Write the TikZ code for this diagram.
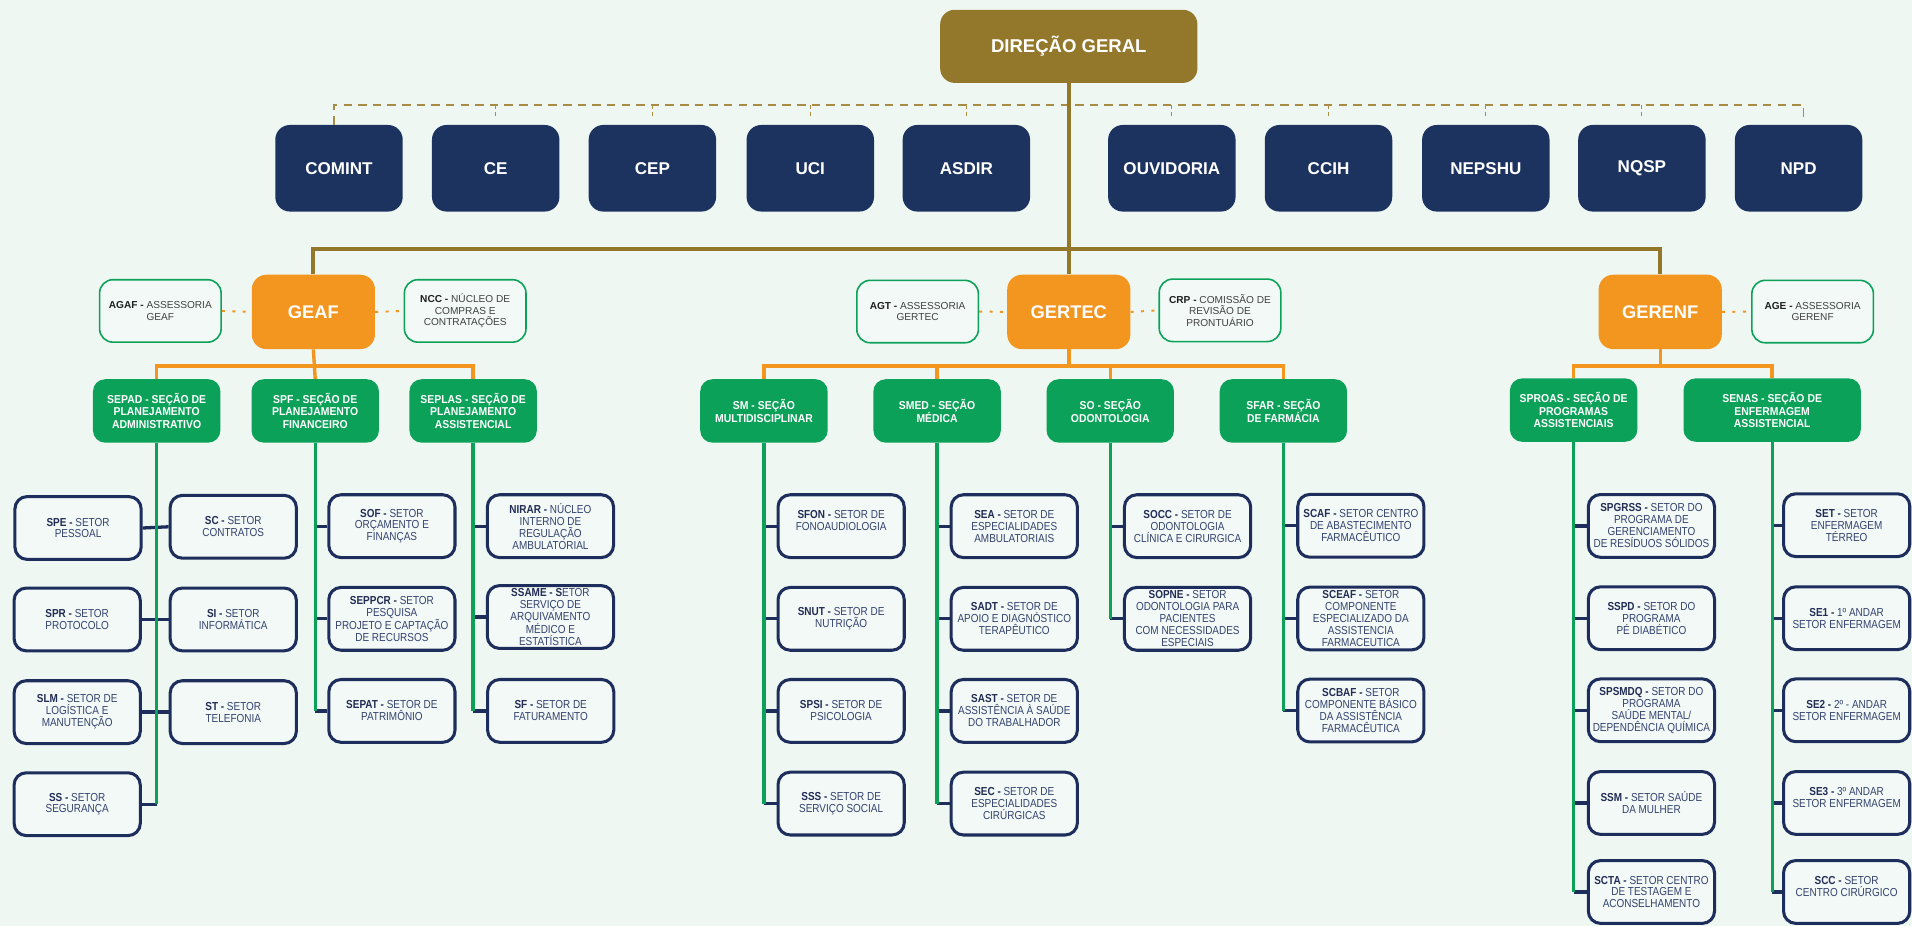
\documentclass[tikz,border=0pt]{standalone}
\usepackage{fontspec}
\setmainfont{Liberation Sans}
\newfontfamily\condfont[FakeStretch=0.86]{Liberation Sans}
\newfontfamily\secfont[FakeStretch=0.91]{Liberation Sans}
\definecolor{bgc}{RGB}{239,247,243}
\definecolor{olivec}{RGB}{147,119,43}
\definecolor{dashc}{RGB}{168,140,70}
\definecolor{navyc}{RGB}{28,51,96}
\definecolor{orangec}{RGB}{243,150,32}
\definecolor{greenc}{RGB}{11,161,89}
\definecolor{leafb}{RGB}{30,46,92}
\definecolor{leaff}{RGB}{243,249,247}
\definecolor{leaft}{RGB}{52,66,110}
\definecolor{leafbold}{RGB}{34,44,84}
\definecolor{advt}{RGB}{64,64,64}
\definecolor{advbold}{RGB}{30,30,30}
\newcommand\bcode[1]{\textbf{\color{leafbold}#1}}
\newcommand\acode[1]{\textbf{\color{advbold}#1}}
\begin{document}
\begin{tikzpicture}[x=1pt,y=-1pt,
  every node/.style={inner sep=0pt, align=center},
  topbox/.style={fill=navyc, rounded corners=12pt, minimum width=104.5pt, minimum height=71pt, text=white, font=\bfseries\fontsize{14}{16}\selectfont},
  dgbox/.style={fill=olivec, rounded corners=12pt, minimum width=211pt, minimum height=60pt, text=white, font=\bfseries\fontsize{15.2}{17}\selectfont},
  mgrbox/.style={fill=orangec, rounded corners=12pt, minimum width=101pt, minimum height=61pt, text=white, font=\bfseries\fontsize{15}{17}\selectfont},
  advbox/.style={fill=leaff, draw=greenc, line width=1.3pt, rounded corners=11pt, minimum width=99.7pt, minimum height=51.2pt, text=advt, font=\fontsize{8.3}{9.6}\selectfont},
  secbox/.style={fill=greenc, rounded corners=10pt, minimum width=104.5pt, minimum height=52pt, text=white, font=\secfont\bfseries\fontsize{9.4}{10.3}\selectfont},
  leafbox/.style={fill=leaff, draw=leafb, line width=2.5pt, rounded corners=10pt, minimum width=103.5pt, minimum height=51.5pt, text=leaft, font=\condfont\fontsize{9.5}{9.8}\selectfont},
  oliveline/.style={draw=olivec, line width=3.3pt},
  orangeline/.style={draw=orangec, line width=2.8pt},
  greenline/.style={draw=greenc, line width=2.7pt},
  navyline/.style={draw=leafb, line width=2.7pt},
  dashline/.style={draw=dashc, line width=1.3pt, dash pattern=on 7pt off 5pt},
  tickline/.style={draw=dashc, line width=0.9pt, dash pattern=on 3pt off 3pt},
  dotline/.style={draw=orangec, line width=1.6pt, dash pattern=on 2.5pt off 6pt}
]
\fill[bgc] (0,0) rectangle (1568,759);
\useasboundingbox (0,0) rectangle (1568,759);

% top level
\node[dgbox] (dg) at (876.5,38) {DIREÇÃO GERAL};
\node[topbox] (comint) at (278,138) {COMINT};
\node[topbox] (ce) at (406.5,138) {CE};
\node[topbox] (cep) at (535,138) {CEP};
\node[topbox] (uci) at (664.5,138) {UCI};
\node[topbox] (asdir) at (792.5,138) {ASDIR};
\node[topbox] (ouv) at (961,138) {OUVIDORIA};
\node[topbox] (ccih) at (1089.5,138) {CCIH};
\node[topbox] (nepshu) at (1218.5,138) {NEPSHU};
\node[topbox] (nqsp) at (1346.5,138) {NQSP};
\node[topbox] (npd) at (1475,138) {NPD};

\coordinate (dl) at (274,86);
\coordinate (dr) at (1479,86);
\draw[dashline] ([xshift=-4pt]comint.north) -- (dl) -- (dr) -- ++(0,10);
\foreach \b in {ce,cep,uci,asdir,ouv,ccih,nepshu,nqsp}
  \draw[tickline] (\b.north |- dl) -- ++(0,12);

% managers
\node[mgrbox] (geaf) at (257,255.8) {GEAF};
\node[mgrbox] (gertec) at (876.5,255.8) {GERTEC};
\node[mgrbox] (gerenf) at (1361.5,255.8) {GERENF};

\draw[oliveline] (dg.south) -- (gertec.north);
\draw[oliveline] (geaf.north) -- (geaf.north |- 0,204) -- (gerenf.north |- 0,204) -- (gerenf.north);

% advisory
\node[advbox] (agaf) at (131.5,255) {\acode{AGAF -} ASSESSORIA\\GEAF};
\node[advbox] (ncc) at (381.5,255) {\acode{NCC -} NÚCLEO DE\\COMPRAS E\\CONTRATAÇÕES};
\node[advbox] (agt) at (752.5,255.5) {\acode{AGT -} ASSESSORIA\\GERTEC};
\node[advbox] (crp) at (1000.5,254.5) {\acode{CRP -} COMISSÃO DE\\REVISÃO DE\\PRONTUÁRIO};
\node[advbox] (age) at (1486.5,255.5) {\acode{AGE -} ASSESSORIA\\GERENF};
\draw[dotline] (agaf.east) -- (geaf.west);
\draw[dotline] (geaf.east) -- (ncc.west);
\draw[dotline] (agt.east) -- (gertec.west);
\draw[dotline] (gertec.east) -- (crp.west);
\draw[dotline] (gerenf.east) -- (age.west);

% sections
\node[secbox] (sepad) at (128.5,337) {SEPAD - SEÇÃO DE\\PLANEJAMENTO\\ADMINISTRATIVO};
\node[secbox] (spf) at (258.5,337) {SPF - SEÇÃO DE\\PLANEJAMENTO\\FINANCEIRO};
\node[secbox] (seplas) at (388,337) {SEPLAS - SEÇÃO DE\\PLANEJAMENTO\\ASSISTENCIAL};
\node[secbox] (sm) at (626.5,337) {SM - SEÇÃO\\MULTIDISCIPLINAR};
\node[secbox] (smed) at (768.5,337) {SMED - SEÇÃO\\MÉDICA};
\node[secbox] (so) at (910.5,337) {SO - SEÇÃO\\ODONTOLOGIA};
\node[secbox] (sfar) at (1052.5,337) {SFAR - SEÇÃO\\DE FARMÁCIA};
\node[secbox] (sproas) at (1290.5,336.3) {SPROAS - SEÇÃO DE\\PROGRAMAS\\ASSISTENCIAIS};
\node[secbox, minimum width=145.4pt] (senas) at (1453.3,336.3) {SENAS - SEÇÃO DE\\ENFERMAGEM\\ASSISTENCIAL};

\draw[orangeline] (sepad.north) -- (sepad.north |- 0,300) -- (seplas.north |- 0,300) -- (seplas.north);
\draw[orangeline] (geaf.south) -- (spf.north);
\draw[orangeline] (sm.north) -- (sm.north |- 0,300) -- (sfar.north |- 0,300) -- (sfar.north);
\draw[orangeline] (gertec.south) -- (gertec.south |- 0,300);
\draw[orangeline] (smed.north) -- (smed.north |- 0,300);
\draw[orangeline] (so.north) -- (so.north |- 0,300);
\draw[orangeline] (sproas.north) -- (sproas.north |- 0,300) -- (senas.north |- 0,300) -- (senas.north);
\draw[orangeline] (gerenf.south) -- (gerenf.south |- 0,300);

% GEAF leaves
\node[leafbox] (spe) at (64,433) {\bcode{SPE -} SETOR\\PESSOAL};
\node[leafbox] (sc) at (191.3,432) {\bcode{SC -} SETOR\\CONTRATOS};
\node[leafbox] (spr) at (63.3,508) {\bcode{SPR -} SETOR\\PROTOCOLO};
\node[leafbox] (si) at (191.3,508) {\bcode{SI -} SETOR\\INFORMÁTICA};
\node[leafbox] (slm) at (63.3,584) {\bcode{SLM -} SETOR DE\\LOGÍSTICA E\\MANUTENÇÃO};
\node[leafbox] (st) at (191.3,584) {\bcode{ST -} SETOR\\TELEFONIA};
\node[leafbox] (ss) at (63.3,659.5) {\bcode{SS -} SETOR\\SEGURANÇA};

\node[leafbox] (sof) at (321.4,431.5) {\bcode{SOF -} SETOR\\ORÇAMENTO E\\FINANÇAS};
\node[leafbox] (seppcr) at (321.4,507.5) {\bcode{SEPPCR -} SETOR\\PESQUISA\\PROJETO E CAPTAÇÃO\\DE RECURSOS};
\node[leafbox] (sepat) at (321.4,583) {\bcode{SEPAT -} SETOR DE\\PATRIMÔNIO};

\node[leafbox] (nirar) at (451.4,431.5) {\bcode{NIRAR -} NÚCLEO\\INTERNO DE\\REGULAÇÃO\\AMBULATORIAL};
\node[leafbox] (ssame) at (451.4,506) {\bcode{SSAME - S}ETOR\\SERVIÇO DE\\ARQUIVAMENTO\\MÉDICO E\\ESTATÍSTICA};
\node[leafbox] (sf) at (451.6,583) {\bcode{SF -} SETOR DE\\FATURAMENTO};

% GERTEC leaves
\node[leafbox] (sfon) at (689.8,431.5) {\bcode{SFON -} SETOR DE\\FONOAUDIOLOGIA\\\mbox{}};
\node[leafbox] (snut) at (689.8,507.5) {\bcode{SNUT -} SETOR DE\\NUTRIÇÃO};
\node[leafbox] (spsi) at (689.8,583) {\bcode{SPSI -} SETOR DE\\PSICOLOGIA};
\node[leafbox] (sss) at (689.8,659) {\bcode{SSS -} SETOR DE\\SERVIÇO SOCIAL};

\node[leafbox] (sea) at (831.8,431.5) {\bcode{SEA -} SETOR DE\\ESPECIALIDADES\\AMBULATORIAIS};
\node[leafbox] (sadt) at (831.8,507.5) {\bcode{SADT -} SETOR DE\\APOIO E DIAGNÓSTICO\\TERAPÊUTICO};
\node[leafbox] (sast) at (831.8,583) {\bcode{SAST -} SETOR DE\\ASSISTÊNCIA À SAÚDE\\DO TRABALHADOR};
\node[leafbox] (sec) at (831.8,659) {\bcode{SEC -} SETOR DE\\ESPECIALIDADES\\CIRÚRGICAS};

\node[leafbox] (socc) at (973.9,431.5) {\bcode{SOCC -} SETOR DE\\ODONTOLOGIA\\CLÍNICA E CIRURGICA};
\node[leafbox] (sopne) at (973.9,507.5) {\bcode{SOPNE -} SETOR\\ODONTOLOGIA PARA\\PACIENTES\\COM NECESSIDADES\\ESPECIAIS};

\node[leafbox] (scaf) at (1116,431.2) {\bcode{SCAF -} SETOR CENTRO\\DE ABASTECIMENTO\\FARMACÊUTICO};
\node[leafbox] (sceaf) at (1116,507.2) {\bcode{SCEAF -} SETOR\\COMPONENTE\\ESPECIALIZADO DA\\ASSISTENCIA\\FARMACEUTICA};
\node[leafbox] (scbaf) at (1116,582.7) {\bcode{SCBAF -} SETOR\\COMPONENTE BÁSICO\\DA ASSISTÊNCIA\\FARMACÊUTICA};

% GERENF leaves
\node[leafbox] (spgrss) at (1354.3,431.3) {\bcode{SPGRSS -} SETOR DO\\PROGRAMA DE\\GERENCIAMENTO\\DE RESÍDUOS SÓLIDOS};
\node[leafbox] (sspd) at (1354.3,507) {\bcode{SSPD -} SETOR DO\\PROGRAMA\\PÉ DIABÉTICO};
\node[leafbox] (spsmdq) at (1354.3,582.5) {\bcode{SPSMDQ -} SETOR DO\\PROGRAMA\\SAÚDE MENTAL/\\DEPENDÊNCIA QUÍMICA};
\node[leafbox] (ssm) at (1354.3,658.5) {\bcode{SSM -} SETOR SAÚDE\\DA MULHER};
\node[leafbox] (scta) at (1354.3,731.5) {\bcode{SCTA -} SETOR CENTRO\\DE TESTAGEM E\\ACONSELHAMENTO};

\node[leafbox] (set) at (1514.4,430.7) {\bcode{SET -} SETOR\\ENFERMAGEM\\TÉRREO};
\node[leafbox] (se1) at (1514.4,507) {\bcode{SE1 -} 1º ANDAR\\SETOR ENFERMAGEM};
\node[leafbox] (se2) at (1514.4,582.5) {\bcode{SE2 -} 2º - ANDAR\\SETOR ENFERMAGEM};
\node[leafbox] (se3) at (1514.4,658.5) {\bcode{SE3 -} 3º ANDAR\\SETOR ENFERMAGEM\\\mbox{}};
\node[leafbox] (scc) at (1514.4,731.5) {\bcode{SCC -} SETOR\\CENTRO CIRÚRGICO\\\mbox{}};

% navy connectors
\draw[navyline] (spe.east) -- (sc.west);
\draw[navyline] (spr.east) -- (si.west);
\draw[navyline] (slm.east) -- (st.west);
\draw[navyline] (ss.east) -- (sepad.south |- ss.east);
\foreach \b in {sof,seppcr,sepat} \draw[navyline] (\b.west) -- (spf.south |- \b.west);
\foreach \b in {nirar,ssame,sf} \draw[navyline] (\b.west) -- (seplas.south |- \b.west);
\foreach \b in {sfon,snut,spsi,sss} \draw[navyline] (\b.west) -- (sm.south |- \b.west);
\foreach \b in {sea,sadt,sast,sec} \draw[navyline] (\b.west) -- (smed.south |- \b.west);
\foreach \b in {socc,sopne} \draw[navyline] (\b.west) -- (so.south |- \b.west);
\foreach \b in {scaf,sceaf,scbaf} \draw[navyline] (\b.west) -- (sfar.south |- \b.west);
\foreach \b in {spgrss,sspd,spsmdq,ssm,scta} \draw[navyline] (\b.west) -- (sproas.south |- \b.west);
\foreach \b in {set,se1,se2,se3,scc} \draw[navyline] (\b.west) -- (senas.south |- \b.west);

% green verticals
\draw[greenline] (sepad.south) -- (sepad.south |- ss.east);
\draw[greenline] (spf.south) -- (spf.south |- sepat.west);
\draw[greenline] (seplas.south) -- (seplas.south |- sf.west);
\draw[greenline] (sm.south) -- (sm.south |- sss.west);
\draw[greenline] (smed.south) -- (smed.south |- sec.west);
\draw[greenline] (so.south) -- (so.south |- sopne.west);
\draw[greenline] (sfar.south) -- (sfar.south |- scbaf.west);
\draw[greenline] (sproas.south) -- (sproas.south |- scta.west);
\draw[greenline] (senas.south) -- (senas.south |- scc.west);
\end{tikzpicture}
\end{document}
